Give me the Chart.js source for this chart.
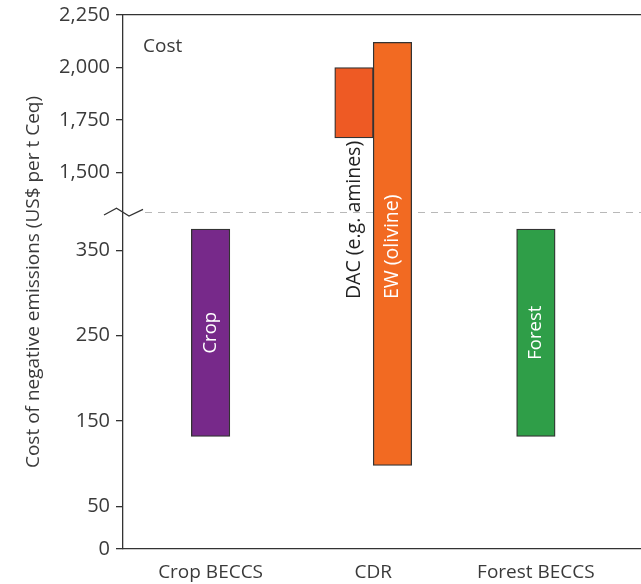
<!DOCTYPE html>
<html>
<head>
<meta charset="utf-8">
<script src="https://cdn.jsdelivr.net/npm/chart.js@4/dist/chart.umd.min.js"></script>
<style>
  html, body { margin: 0; padding: 0; background: #ffffff; }
  canvas { display: block; }
</style>
</head>
<body>
<canvas id="chart" width="641" height="584"></canvas>
<script>
// Cost ranges of negative-emission options (US$ per t Ceq)
const categories = ['Crop BECCS', 'CDR', 'Forest BECCS'];
const seriesNames = ['Crop', 'DAC (e.g. amines)', 'EW (olivine)', 'Forest'];
const cropRange = [132, 375];
const dacRange = [1665, 2000];
const ewRange = [98, 2120];
const forestRange = [132, 375];
const yTicks = [0, 50, 150, 250, 350, 1500, 1750, 2000, 2250];
const axisBreak = [395, 1312];   // values skipped between the two parts of the axis
const panelLabel = 'Cost';
const yTitle = 'Cost of negative emissions (US$ per t Ceq)';

const INK = '#333333';
const TEXT = '#3a3a3a';
const FONT = '"Open Sans", "Noto Sans", sans-serif';

// Linear scale with a gap: the lower part and the upper part each get a share of the height.
class BrokenLinearScale extends Chart.LinearScale {
  getPixelForValue(value) {
    const o = this.options;
    const lowH = (this.bottom - this.top) * o.lowerShare;
    const breakPx = this.bottom - lowH;
    if (value <= o.breakStart) {
      return this.bottom - (value - this.min) / (o.breakStart - this.min) * lowH;
    }
    if (value >= o.breakEnd) {
      return breakPx - (value - o.breakEnd) / (this.max - o.breakEnd) * (breakPx - this.top);
    }
    return breakPx;
  }
  getValueForPixel(pixel) {
    const o = this.options;
    const lowH = (this.bottom - this.top) * o.lowerShare;
    const breakPx = this.bottom - lowH;
    if (pixel >= breakPx) {
      return this.min + (this.bottom - pixel) / lowH * (o.breakStart - this.min);
    }
    return o.breakEnd + (breakPx - pixel) / (breakPx - this.top) * (this.max - o.breakEnd);
  }
}
BrokenLinearScale.id = 'brokenLinear';
BrokenLinearScale.defaults = Chart.LinearScale.defaults;
Chart.register(BrokenLinearScale);

const barSeries = [
  { name: seriesNames[0], range: cropRange,   category: 0, fill: '#77298A', labelMode: 'inside' },
  { name: seriesNames[1], range: dacRange,    category: 1, fill: '#EE5A24', labelMode: 'below' },
  { name: seriesNames[2], range: ewRange,     category: 1, fill: '#F26A22', labelMode: 'beside' },
  { name: seriesNames[3], range: forestRange, category: 2, fill: '#2F9E48', labelMode: 'inside' }
];

// Dashed break line under the bars, zig-zag mark on the axis, panel label
const axisBreakMark = {
  id: 'axisBreakMark',
  beforeDatasetsDraw(chart) {
    const { ctx, chartArea } = chart;
    const py = Math.round(chart.scales.y.getPixelForValue(axisBreak[0])) + 0.5;
    ctx.save();
    ctx.strokeStyle = '#b8b8b8';
    ctx.lineWidth = 1.2;
    ctx.setLineDash([7, 6]);
    ctx.beginPath();
    ctx.moveTo(chartArea.left + 22, py);
    ctx.lineTo(chartArea.right, py);
    ctx.stroke();
    ctx.restore();
  },
  afterDraw(chart) {
    const { ctx, chartArea } = chart;
    const py = chart.scales.y.getPixelForValue(axisBreak[0]);
    const ax = chartArea.left;
    ctx.save();
    ctx.strokeStyle = INK;
    ctx.lineWidth = 1.3;
    ctx.lineJoin = 'miter';
    ctx.beginPath();
    ctx.moveTo(ax - 19, py + 3);
    ctx.lineTo(ax - 6.5, py - 3.7);
    ctx.lineTo(ax + 6, py + 4);
    ctx.lineTo(ax + 20, py - 2.7);
    ctx.stroke();

    ctx.fillStyle = TEXT;
    ctx.font = '19px ' + FONT;
    ctx.textAlign = 'left';
    ctx.textBaseline = 'middle';
    ctx.fillText(panelLabel, ax + 20, chartArea.top + 32);
    ctx.restore();
  }
};

// Vertical text on and next to the bars
const barLabels = {
  id: 'barLabels',
  afterDatasetsDraw(chart) {
    const { ctx } = chart;
    ctx.save();
    ctx.textBaseline = 'middle';
    let sharedStart = null;
    chart.data.datasets.forEach((ds, i) => {
      const bar = chart.getDatasetMeta(i).data[ds.category];
      const { x, y, base } = bar.getProps(['x', 'y', 'base'], true);
      ctx.save();
      if (ds.labelMode === 'inside') {
        ctx.font = '18.5px ' + FONT;
        ctx.translate(x, (y + base) / 2);
        ctx.rotate(-Math.PI / 2);
        ctx.textAlign = 'center';
        ctx.fillStyle = '#ffffff';
        ctx.fillText(ds.label, 0, 0);
      } else if (ds.labelMode === 'below') {
        ctx.font = '19.5px ' + FONT;
        const w = ctx.measureText(ds.label).width;
        sharedStart = base + 3 + w;
        ctx.translate(x, base + 3);
        ctx.rotate(-Math.PI / 2);
        ctx.textAlign = 'right';
        ctx.fillStyle = '#222222';
        ctx.fillText(ds.label, 0, 0);
      } else {
        ctx.font = '19.5px ' + FONT;
        ctx.translate(x, sharedStart !== null ? sharedStart : (y + base) / 2);
        ctx.rotate(-Math.PI / 2);
        ctx.textAlign = 'left';
        ctx.fillStyle = '#ffffff';
        ctx.fillText(ds.label, 0, 0);
      }
      ctx.restore();
    });
    ctx.restore();
  }
};

new Chart(document.getElementById('chart'), {
  type: 'bar',
  data: {
    datasets: barSeries.map(s => ({
      label: s.name,
      data: categories.map((_, i) => ({ x: i + 1, y: i === s.category ? s.range : null })),
      backgroundColor: s.fill,
      borderColor: INK,
      borderWidth: 1.3,
      borderSkipped: false,
      barThickness: 38.5,
      skipNull: true,
      category: s.category,
      labelMode: s.labelMode
    }))
  },
  options: {
    responsive: false,
    animation: false,
    devicePixelRatio: 1,
    layout: { padding: 0 },
    plugins: {
      legend: { display: false },
      tooltip: { enabled: false }
    },
    scales: {
      x: {
        type: 'linear',
        position: 'bottom',
        offset: false,
        min: 0.4615,
        max: 3.6463,
        bounds: 'data',
        afterBuildTicks: s => { s.ticks = categories.map((_, i) => ({ value: i + 1 })); },
        afterFit: s => { s.height = 35; s.paddingLeft = 0; s.paddingRight = 0; },
        ticks: {
          autoSkip: false,
          maxRotation: 0,
          padding: 12,
          color: TEXT,
          font: { family: FONT, size: 19 },
          callback: v => categories[v - 1] || ''
        },
        grid: { display: false, drawTicks: false, offset: false },
        border: { display: true, color: INK, width: 1.3 }
      },
      xTop: {
        type: 'linear',
        position: 'top',
        offset: false,
        afterFit: s => { s.height = 15; s.paddingLeft = 0; s.paddingRight = 0; },
        ticks: { display: false },
        grid: { display: false, drawTicks: false },
        border: { display: true, color: INK, width: 1.3 }
      },
      y: {
        type: 'brokenLinear',
        min: 0,
        max: 2250,
        breakStart: axisBreak[0],
        breakEnd: axisBreak[1],
        lowerShare: 0.6311,
        afterBuildTicks: s => { s.ticks = yTicks.map(v => ({ value: v })); },
        afterFit: s => { s.width = 123; s.paddingTop = 0; s.paddingBottom = 0; },
        ticks: {
          autoSkip: false,
          padding: 6,
          color: TEXT,
          font: { family: FONT, size: 20 },
          callback: v => Number(v).toLocaleString('en-US')
        },
        grid: { drawOnChartArea: false, drawTicks: true, tickLength: 7, color: INK, lineWidth: 1.3 },
        border: { display: true, color: INK, width: 1.3 },
        title: {
          display: true,
          text: yTitle,
          color: TEXT,
          font: { family: FONT, size: 19 },
          padding: { top: 22, bottom: 0 }
        }
      }
    }
  },
  plugins: [axisBreakMark, barLabels]
});
</script>
</body>
</html>
